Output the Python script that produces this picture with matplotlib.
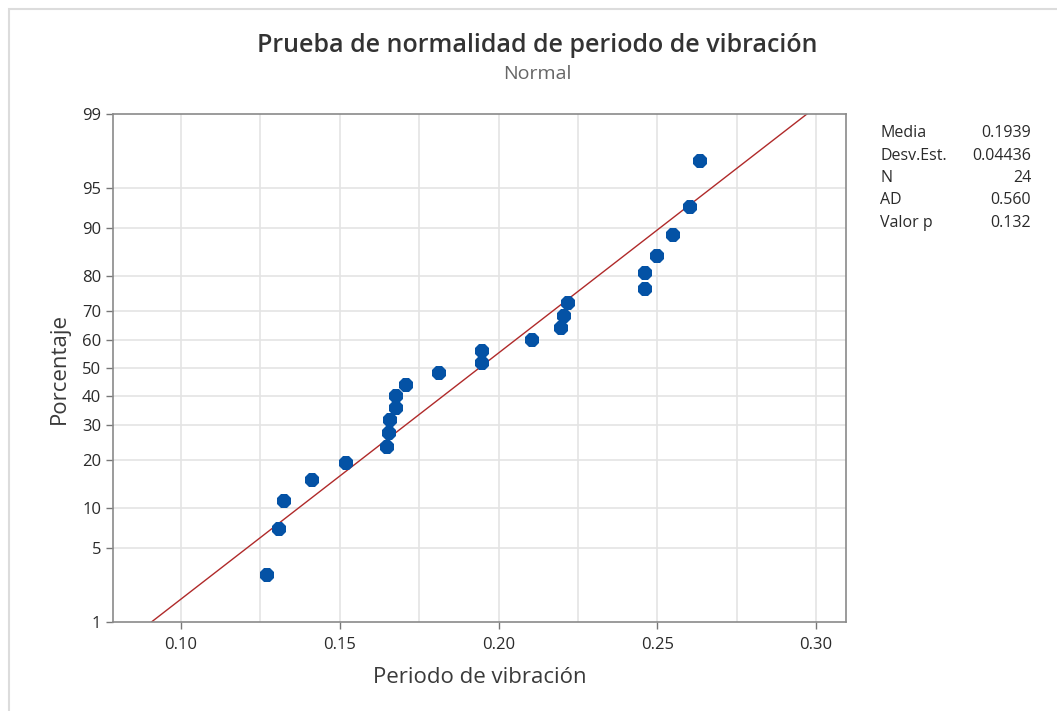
import matplotlib
matplotlib.use("Agg")
import matplotlib.pyplot as plt
from matplotlib.patches import Rectangle
from statistics import NormalDist
import numpy as np

plt.rcParams['font.family'] = ['Open Sans', 'DejaVu Sans']

# Data
periodo = [0.1271, 0.1309, 0.1324, 0.1413, 0.1520, 0.1649, 0.1655, 0.1658,
           0.1677, 0.1677, 0.1709, 0.1813, 0.1948, 0.1948, 0.2106, 0.2197,
           0.2206, 0.2219, 0.2461, 0.2461, 0.2499, 0.2550, 0.2603, 0.2635]
porcentaje = [2.9, 7.0, 11.1, 15.2, 19.3, 23.4, 27.5, 31.6, 35.7, 39.8, 43.9, 48.0,
              52.0, 56.1, 60.2, 64.3, 68.4, 72.5, 76.6, 80.7, 84.8, 88.9, 93.0, 97.1]
media = 0.1939
desv = 0.04436
stat_labels = ["Media", "Desv.Est.", "N", "AD", "Valor p"]
stat_values = ["0.1939", "0.04436", "24", "0.560", "0.132"]
y_ticks = [1, 5, 10, 20, 30, 40, 50, 60, 70, 80, 90, 95, 99]
x_ticks = [0.10, 0.15, 0.20, 0.25, 0.30]
x_grid = [0.10, 0.125, 0.15, 0.175, 0.20, 0.225, 0.25, 0.275, 0.30]

nd = NormalDist()
def z(p):
    return nd.inv_cdf(p / 100.0)

W, H = 1057, 711
fig = plt.figure(figsize=(W / 100, H / 100), dpi=100)
fig.patches.append(Rectangle((8.5 / W, -0.1), 1.2, 1.1 - 8.5 / H, transform=fig.transFigure,
                             fill=False, edgecolor='#dcdcdc', linewidth=1.5))

ax = fig.add_axes([113 / W, 1 - 622 / H, (846 - 113) / W, (622 - 114) / H])
ax.set_xlim(0.0786, 0.3094)
ax.set_ylim(z(1), z(99))

for gx in x_grid:
    ax.axvline(gx, color='#e4e4e4', linewidth=1.2, zorder=0)
for t in y_ticks[1:-1]:
    ax.axhline(z(t), color='#e4e4e4', linewidth=1.2, zorder=0)

# fitted line
p_line = [1, 99]
x_line = [media + desv * z(p) for p in p_line]
ax.plot(x_line, [z(p) for p in p_line], color='#b02a2a', linewidth=1.0, zorder=2)

ax.plot(periodo, [z(p) for p in porcentaje], linestyle='none', marker='8',
        markersize=10.5, color='#0452a5', markeredgewidth=0, zorder=3)

ax.set_yticks([z(t) for t in y_ticks])
ax.set_yticklabels([str(t) for t in y_ticks])
ax.set_xticks(x_ticks)
ax.set_xticklabels([f"{t:.2f}" for t in x_ticks])
ax.tick_params(axis='both', labelsize=12, colors='#777777', labelcolor='#2a2a2a',
               length=5, width=1)
ax.tick_params(axis='x', pad=6)

for s in ax.spines.values():
    s.set_color('#8a8a8a')
    s.set_linewidth(1.2)

ax.set_xlabel("Periodo de vibración", fontsize=16, color='#3a3a3a', labelpad=10,
              fontweight='medium')
ax.set_ylabel("Porcentaje", fontsize=16, color='#3a3a3a', labelpad=9,
              fontweight='medium')

fig.text(537 / W, 1 - 45 / H, "Prueba de normalidad de periodo de vibración",
         ha='center', va='center', fontsize=18, color='#333333', fontweight='semibold')
fig.text(537 / W, 1 - 74 / H, "Normal", ha='center', va='center',
         fontsize=14, color='#666666')

row_y = [133, 156, 178, 200, 223]
for lab, val, ry in zip(stat_labels, stat_values, row_y):
    fig.text(880 / W, 1 - ry / H, lab, ha='left', va='center', fontsize=11.5, color='#2a2a2a')
    fig.text(1031 / W, 1 - ry / H, val, ha='right', va='center', fontsize=11.5, color='#2a2a2a')

fig.savefig("out.png", dpi=100)
